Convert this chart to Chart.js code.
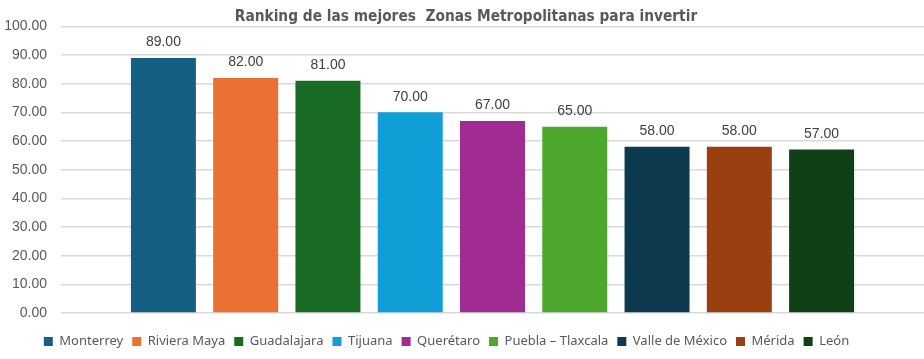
<!DOCTYPE html>
<html>
<head>
<meta charset="utf-8">
<script src="https://cdn.jsdelivr.net/npm/chart.js@4"></script>
<style>
html,body{margin:0;padding:0;background:#fff;}
#wrap{width:924px;height:359px;}
</style>
</head>
<body>
<div id="wrap"><canvas id="c" width="924" height="359"></canvas></div>
<script>
const titleText = 'Ranking de las mejores  Zonas Metropolitanas para invertir';
const categories = ['Monterrey','Riviera Maya','Guadalajara','Tijuana','Querétaro','Puebla – Tlaxcala','Valle de México','Mérida','León'];
const values = [89, 82, 81, 70, 67, 65, 58, 58, 57];
const colors = ['#156082','#E97132','#196B24','#0F9ED5','#A02B93','#4EA72E','#0D3A4E','#9A4010','#0F4016'];
const yTicks = [0,10,20,30,40,50,60,70,80,90,100];

const datasets = categories.map((name, i) => ({
  label: name,
  data: [values[i]],
  backgroundColor: colors[i],
  borderWidth: 0,
  categoryPercentage: 0.858,
  barPercentage: 0.79
}));

const layoutFix = {
  id: 'layoutFix',
  afterInit(chart) {
    const lg = chart.legend;
    const fit = lg.fit.bind(lg);
    lg.fit = function () { fit(); this.height = 46; };
  },
  afterLayout(chart) {
    const lg = chart.legend;
    lg.top += 13; lg.bottom += 13;
    lg.left -= 15.5; lg.right -= 15.5;
    const tb = chart.titleBlock;
    if (tb) { tb.left += 4; tb.right += 4; }
  }
};

const valueLabels = {
  id: 'valueLabels',
  afterDatasetsDraw(chart) {
    const ctx = chart.ctx;
    ctx.save();
    ctx.font = '14px "Liberation Sans", Arial, sans-serif';
    ctx.fillStyle = '#404040';
    ctx.textAlign = 'center';
    ctx.textBaseline = 'alphabetic';
    chart.data.datasets.forEach((ds, di) => {
      const meta = chart.getDatasetMeta(di);
      meta.data.forEach((el, j) => {
        const v = ds.data[j];
        ctx.fillText(v.toFixed(2), el.x, el.y - 11.5);
      });
    });
    ctx.restore();
  }
};

new Chart(document.getElementById('c'), {
  type: 'bar',
  data: { labels: [''], datasets },
  options: {
    responsive: false,
    animation: false,
    devicePixelRatio: 1,
    layout: { padding: 0 },
    scales: {
      x: { display: false },
      y: {
        min: 0, max: 100,
        afterBuildTicks(scale) { scale.ticks = yTicks.map(v => ({ value: v })); },
        afterFit(scale) { scale.width = 61; },
        ticks: {
          padding: 14,
          color: '#595959',
          font: { family: '"Liberation Sans", Arial, sans-serif', size: 14 },
          callback: v => Number(v).toFixed(2)
        },
        grid: { color: '#d9d9d9', lineWidth: 1.5, drawTicks: false },
        border: { display: false }
      }
    },
    plugins: {
      title: {
        display: true,
        text: titleText,
        color: '#595959',
        font: { family: '"Liberation Sans Narrow", "DejaVu Sans Condensed", sans-serif', size: 15.3, weight: 'bold' },
        padding: { top: 8, bottom: 0 }
      },
      legend: {
        position: 'bottom',
        labels: {
          boxWidth: 9, boxHeight: 9, padding: 9,
          color: '#595959',
          font: { family: '"Noto Sans", sans-serif', size: 13 }
        }
      },
      tooltip: { enabled: false }
    }
  },
  plugins: [layoutFix, valueLabels]
});
</script>
</body>
</html>
